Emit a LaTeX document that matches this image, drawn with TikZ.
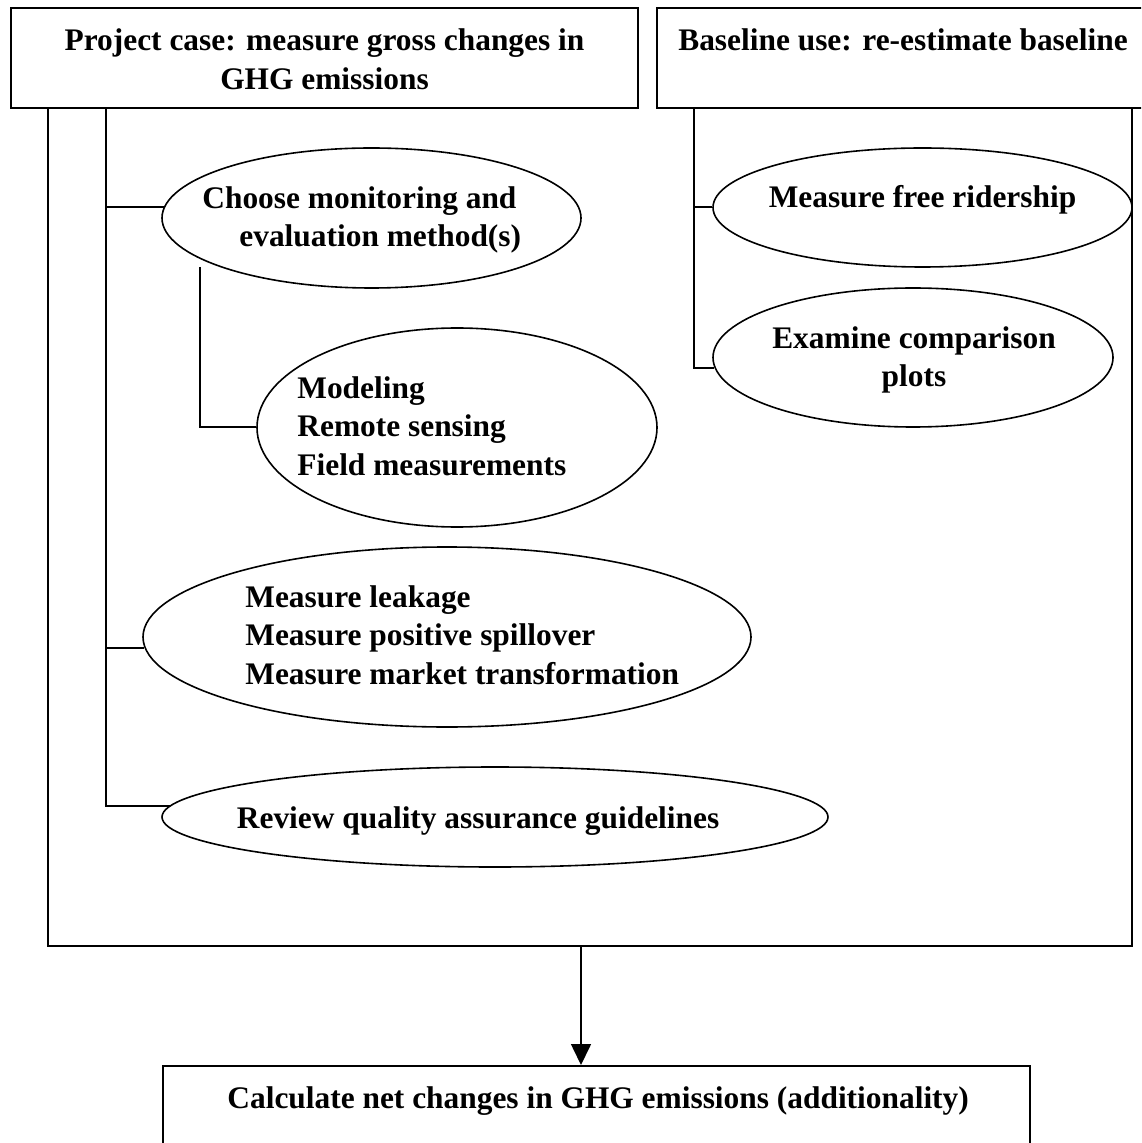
\documentclass[tikz,border=0pt]{standalone}
\usepackage{fontspec}
\setmainfont{Liberation Serif}
\usetikzlibrary{arrows.meta, positioning, shapes.geometric}

\begin{document}
\begin{tikzpicture}[x=0.5pt, y=-0.5pt, font=\fontsize{15.7}{19.25}\selectfont\bfseries,
  framebox/.style = {draw, line width=1pt, inner sep=0pt},
  oval/.style = {ellipse, draw, line width=0.8pt, inner sep=0pt},
  txt/.style = {inner sep=0pt, align=left, anchor=base west},
  ctxt/.style = {inner sep=0pt, align=center, anchor=base},
  wire/.style = {line width=1pt},
  arrow/.style = {line width=0.8pt, -{Triangle[length=10.5pt, width=10pt]}}
]
\useasboundingbox (0,0) rectangle (1141,1143);
\clip (0,0) rectangle (1141,1143);
% header boxes
\node[framebox, minimum width=313.5pt, minimum height=50pt] (project) at (324.5,58) {};
\node[framebox, minimum width=246pt, minimum height=50pt] (baseline) at (903,58) {};
\node[ctxt] (project_txt) at (324.5,89.5) {Project case: measure gross changes in\\GHG emissions};
\node[ctxt] (baseline_txt) at (903,51) {Baseline use: re-estimate baseline};
% project side
\node[oval, minimum width=209.5pt, minimum height=70pt] (choose) at (371.5,218) {};
\node[txt] (choose_txt) at (202,247) {Choose monitoring and\\\hspace*{18.5pt}evaluation method(s)};
\node[oval, minimum width=200pt, minimum height=99.5pt] (model) at (457,427.5) {};
\node[txt] (model_txt) at (297,475) {Modeling\\Remote sensing\\Field measurements};
\node[oval, minimum width=304pt, minimum height=90pt] (leak) at (447,637) {};
\node[txt] (leak_txt) at (245,684) {Measure leakage\\Measure positive spillover\\Measure market transformation};
\node[oval, minimum width=333pt, minimum height=50pt] (review) at (495,817) {};
\node[txt] (review_txt) at (236.5,828) {Review quality assurance guidelines};
% baseline side
\node[oval, minimum width=209.5pt, minimum height=59.5pt] (free) at (922.5,207.5) {};
\node[ctxt] (free_txt) at (922.5,208) {Measure free ridership};
\node[oval, minimum width=200pt, minimum height=69.5pt] (examine) at (913,357.5) {};
\node[ctxt] (examine_txt) at (914,387) {Examine comparison\\plots};
% result
\node[framebox, minimum width=433.5pt, minimum height=45pt] (calc) at (596.25,1111) {};
\node[txt] (calc_txt) at (227,1108) {Calculate net changes in GHG emissions (additionality)};
% outer frame and stems
\coordinate (frameTL) at (48,108);
\coordinate (frameTR) at (1132,108);
\coordinate (frameBL) at (48,946);
\coordinate (merge) at (581,946);
\coordinate (stemP) at (106,108);
\coordinate (stemC) at (200,267);
\coordinate (stemB) at (694,108);
\draw[wire] (frameTL) -- (frameBL) -| (frameTR);
\draw[wire] (stemP) |- (review.178);
\draw[wire] (stemP |- choose.177) -- (choose.177);
\draw[wire] (stemP |- leak.182) -- (leak.182);
\draw[wire] (stemC) |- (model.west);
\draw[wire] (stemB) |- (examine.183);
\draw[wire] (stemB |- free.west) -- (free.west);
\draw[arrow] (merge) -- (merge |- calc.north);
\end{tikzpicture}
\end{document}
